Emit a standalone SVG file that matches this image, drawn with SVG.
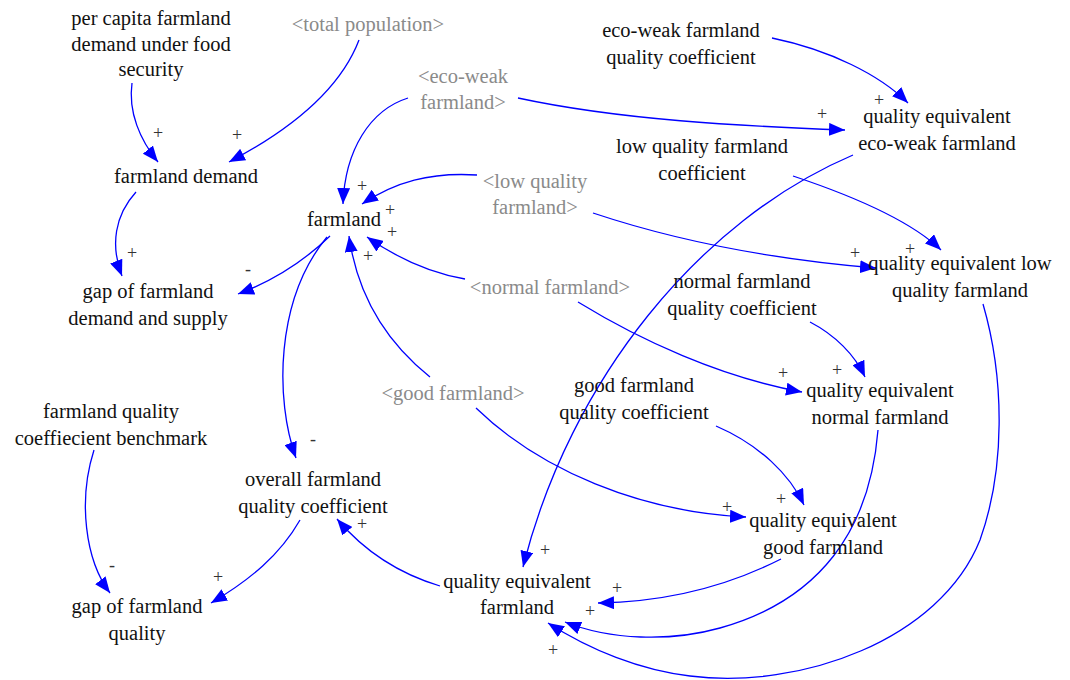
<svg xmlns="http://www.w3.org/2000/svg" width="1070" height="680" viewBox="0 0 1070 680">
  <style>
    text { font-family: 'Liberation Serif', 'DejaVu Serif', serif; }
    .n { font-size: 20.5px; fill: #111; text-anchor: middle; }
    .g { fill: #8a8a8a; }
    .p { font-size: 18px; fill: #333; text-anchor: middle; }
    .c { fill: none; stroke: #0000ff; stroke-width: 1.3; marker-end: url(#ah); }
  </style>
  <defs>
    <marker id="ah" markerUnits="userSpaceOnUse" markerWidth="17" markerHeight="13" refX="16" refY="6.5" orient="auto">
      <path d="M0,0 L16,6.5 L0,13 Z" fill="#0000ff"/>
    </marker>
  </defs>
  <rect width="1070" height="680" fill="#fff"/>

  <!-- causal links -->
  <g id="connectors">
    <path class="c" d="M132,83 C128,112 140,140 158,162"/>
    <path class="c" d="M359,40 C340,90 290,130 229,162"/>
    <path class="c" d="M136,192 C115,215 110,245 122,276"/>
    <path class="c" d="M330,236 C300,265 270,282 238,294"/>
    <path class="c" d="M327,237 C275,300 275,400 296,458"/>
    <path class="c" d="M408,98 C370,110 345,150 343,204"/>
    <path class="c" d="M518,98 C620,120 740,126 845,130"/>
    <path class="c" d="M772,38 C830,50 880,75 908,103"/>
    <path class="c" d="M477,175 C430,172 395,182 362,204"/>
    <path class="c" d="M593,213 C680,242 780,260 876,268"/>
    <path class="c" d="M793,176 C850,195 910,220 941,250"/>
    <path class="c" d="M465,279 C430,273 400,260 367,237"/>
    <path class="c" d="M578,302 C640,340 720,377 802,392"/>
    <path class="c" d="M810,322 C835,335 855,355 865,377"/>
    <path class="c" d="M430,377 C390,345 358,300 349,236"/>
    <path class="c" d="M476,408 C540,470 640,512 746,517"/>
    <path class="c" d="M716,426 C760,445 790,475 804,505"/>
    <path class="c" d="M853,155 C700,220 570,380 523,567"/>
    <path class="c" d="M781,559 C720,590 660,602 598,603"/>
    <path class="c" d="M878,430 C870,530 820,600 720,628 C670,642 610,640 565,622"/>
    <path class="c" d="M983,304 C1005,380 1005,470 980,540 C940,640 800,690 690,676 C640,670 590,650 548,623"/>
    <path class="c" d="M440,586 C400,574 365,552 337,519"/>
    <path class="c" d="M300,520 C280,555 250,580 211,603"/>
    <path class="c" d="M94,450 C78,500 85,560 110,593"/>
  </g>

  <!-- link polarity signs -->
  <g id="polarity">
    <text class="p" x="158" y="139">+</text>
    <text class="p" x="237" y="141">+</text>
    <text class="p" x="132" y="259">+</text>
    <text class="p" x="248" y="275">-</text>
    <text class="p" x="313" y="445">-</text>
    <text class="p" x="362" y="192">+</text>
    <text class="p" x="822" y="120">+</text>
    <text class="p" x="879" y="106">+</text>
    <text class="p" x="390" y="216">+</text>
    <text class="p" x="855" y="259">+</text>
    <text class="p" x="910" y="255">+</text>
    <text class="p" x="392" y="238">+</text>
    <text class="p" x="783" y="379">+</text>
    <text class="p" x="837" y="376">+</text>
    <text class="p" x="368" y="262">+</text>
    <text class="p" x="727" y="513">+</text>
    <text class="p" x="781" y="505">+</text>
    <text class="p" x="545" y="556">+</text>
    <text class="p" x="617" y="594">+</text>
    <text class="p" x="590" y="617">+</text>
    <text class="p" x="553" y="656">+</text>
    <text class="p" x="362" y="530">+</text>
    <text class="p" x="218" y="583">+</text>
    <text class="p" x="112" y="571">-</text>
  </g>

  <g id="per-capita-demand"><text class="n" x="151" y="25">per capita farmland</text><text class="n" x="151" y="51">demand under food</text><text class="n" x="151" y="76">security</text></g>
  <g id="total-population"><text class="n g" x="368" y="31">&lt;total population&gt;</text></g>
  <g id="farmland-demand"><text class="n" x="186" y="183">farmland demand</text></g>
  <g id="eco-weak-farmland-shadow"><text class="n g" x="463" y="83">&lt;eco-weak</text><text class="n g" x="463" y="109">farmland&gt;</text></g>
  <g id="eco-weak-coefficient"><text class="n" x="681" y="37">eco-weak farmland</text><text class="n" x="681" y="64">quality coefficient</text></g>
  <g id="qe-eco-weak"><text class="n" x="937" y="123">quality equivalent</text><text class="n" x="937" y="150">eco-weak farmland</text></g>
  <g id="low-coefficient"><text class="n" x="702" y="153">low quality farmland</text><text class="n" x="702" y="180">coefficient</text></g>
  <g id="farmland"><text class="n" x="344" y="226">farmland</text></g>
  <g id="low-farmland-shadow"><text class="n g" x="535" y="188">&lt;low quality</text><text class="n g" x="535" y="214">farmland&gt;</text></g>
  <g id="qe-low"><text class="n" x="960" y="270">quality equivalent low</text><text class="n" x="960" y="297">quality farmland</text></g>
  <g id="normal-farmland-shadow"><text class="n g" x="550" y="294">&lt;normal farmland&gt;</text></g>
  <g id="normal-coefficient"><text class="n" x="742" y="288">normal farmland</text><text class="n" x="742" y="315">quality coefficient</text></g>
  <g id="gap-demand-supply"><text class="n" x="148" y="298">gap of farmland</text><text class="n" x="148" y="325">demand and supply</text></g>
  <g id="qe-normal"><text class="n" x="880" y="397">quality equivalent</text><text class="n" x="880" y="424">normal farmland</text></g>
  <g id="good-farmland-shadow"><text class="n g" x="453" y="400">&lt;good farmland&gt;</text></g>
  <g id="good-coefficient"><text class="n" x="634" y="392">good farmland</text><text class="n" x="634" y="419">quality coefficient</text></g>
  <g id="quality-benchmark"><text class="n" x="111" y="418">farmland quality</text><text class="n" x="111" y="445">coeffiecient benchmark</text></g>
  <g id="overall-coefficient"><text class="n" x="313" y="486">overall farmland</text><text class="n" x="313" y="513">quality coefficient</text></g>
  <g id="qe-good"><text class="n" x="823" y="527">quality equivalent</text><text class="n" x="823" y="554">good farmland</text></g>
  <g id="qe-farmland"><text class="n" x="517" y="588">quality equivalent</text><text class="n" x="517" y="614">farmland</text></g>
  <g id="gap-quality"><text class="n" x="137" y="613">gap of farmland</text><text class="n" x="137" y="640">quality</text></g>
</svg>
